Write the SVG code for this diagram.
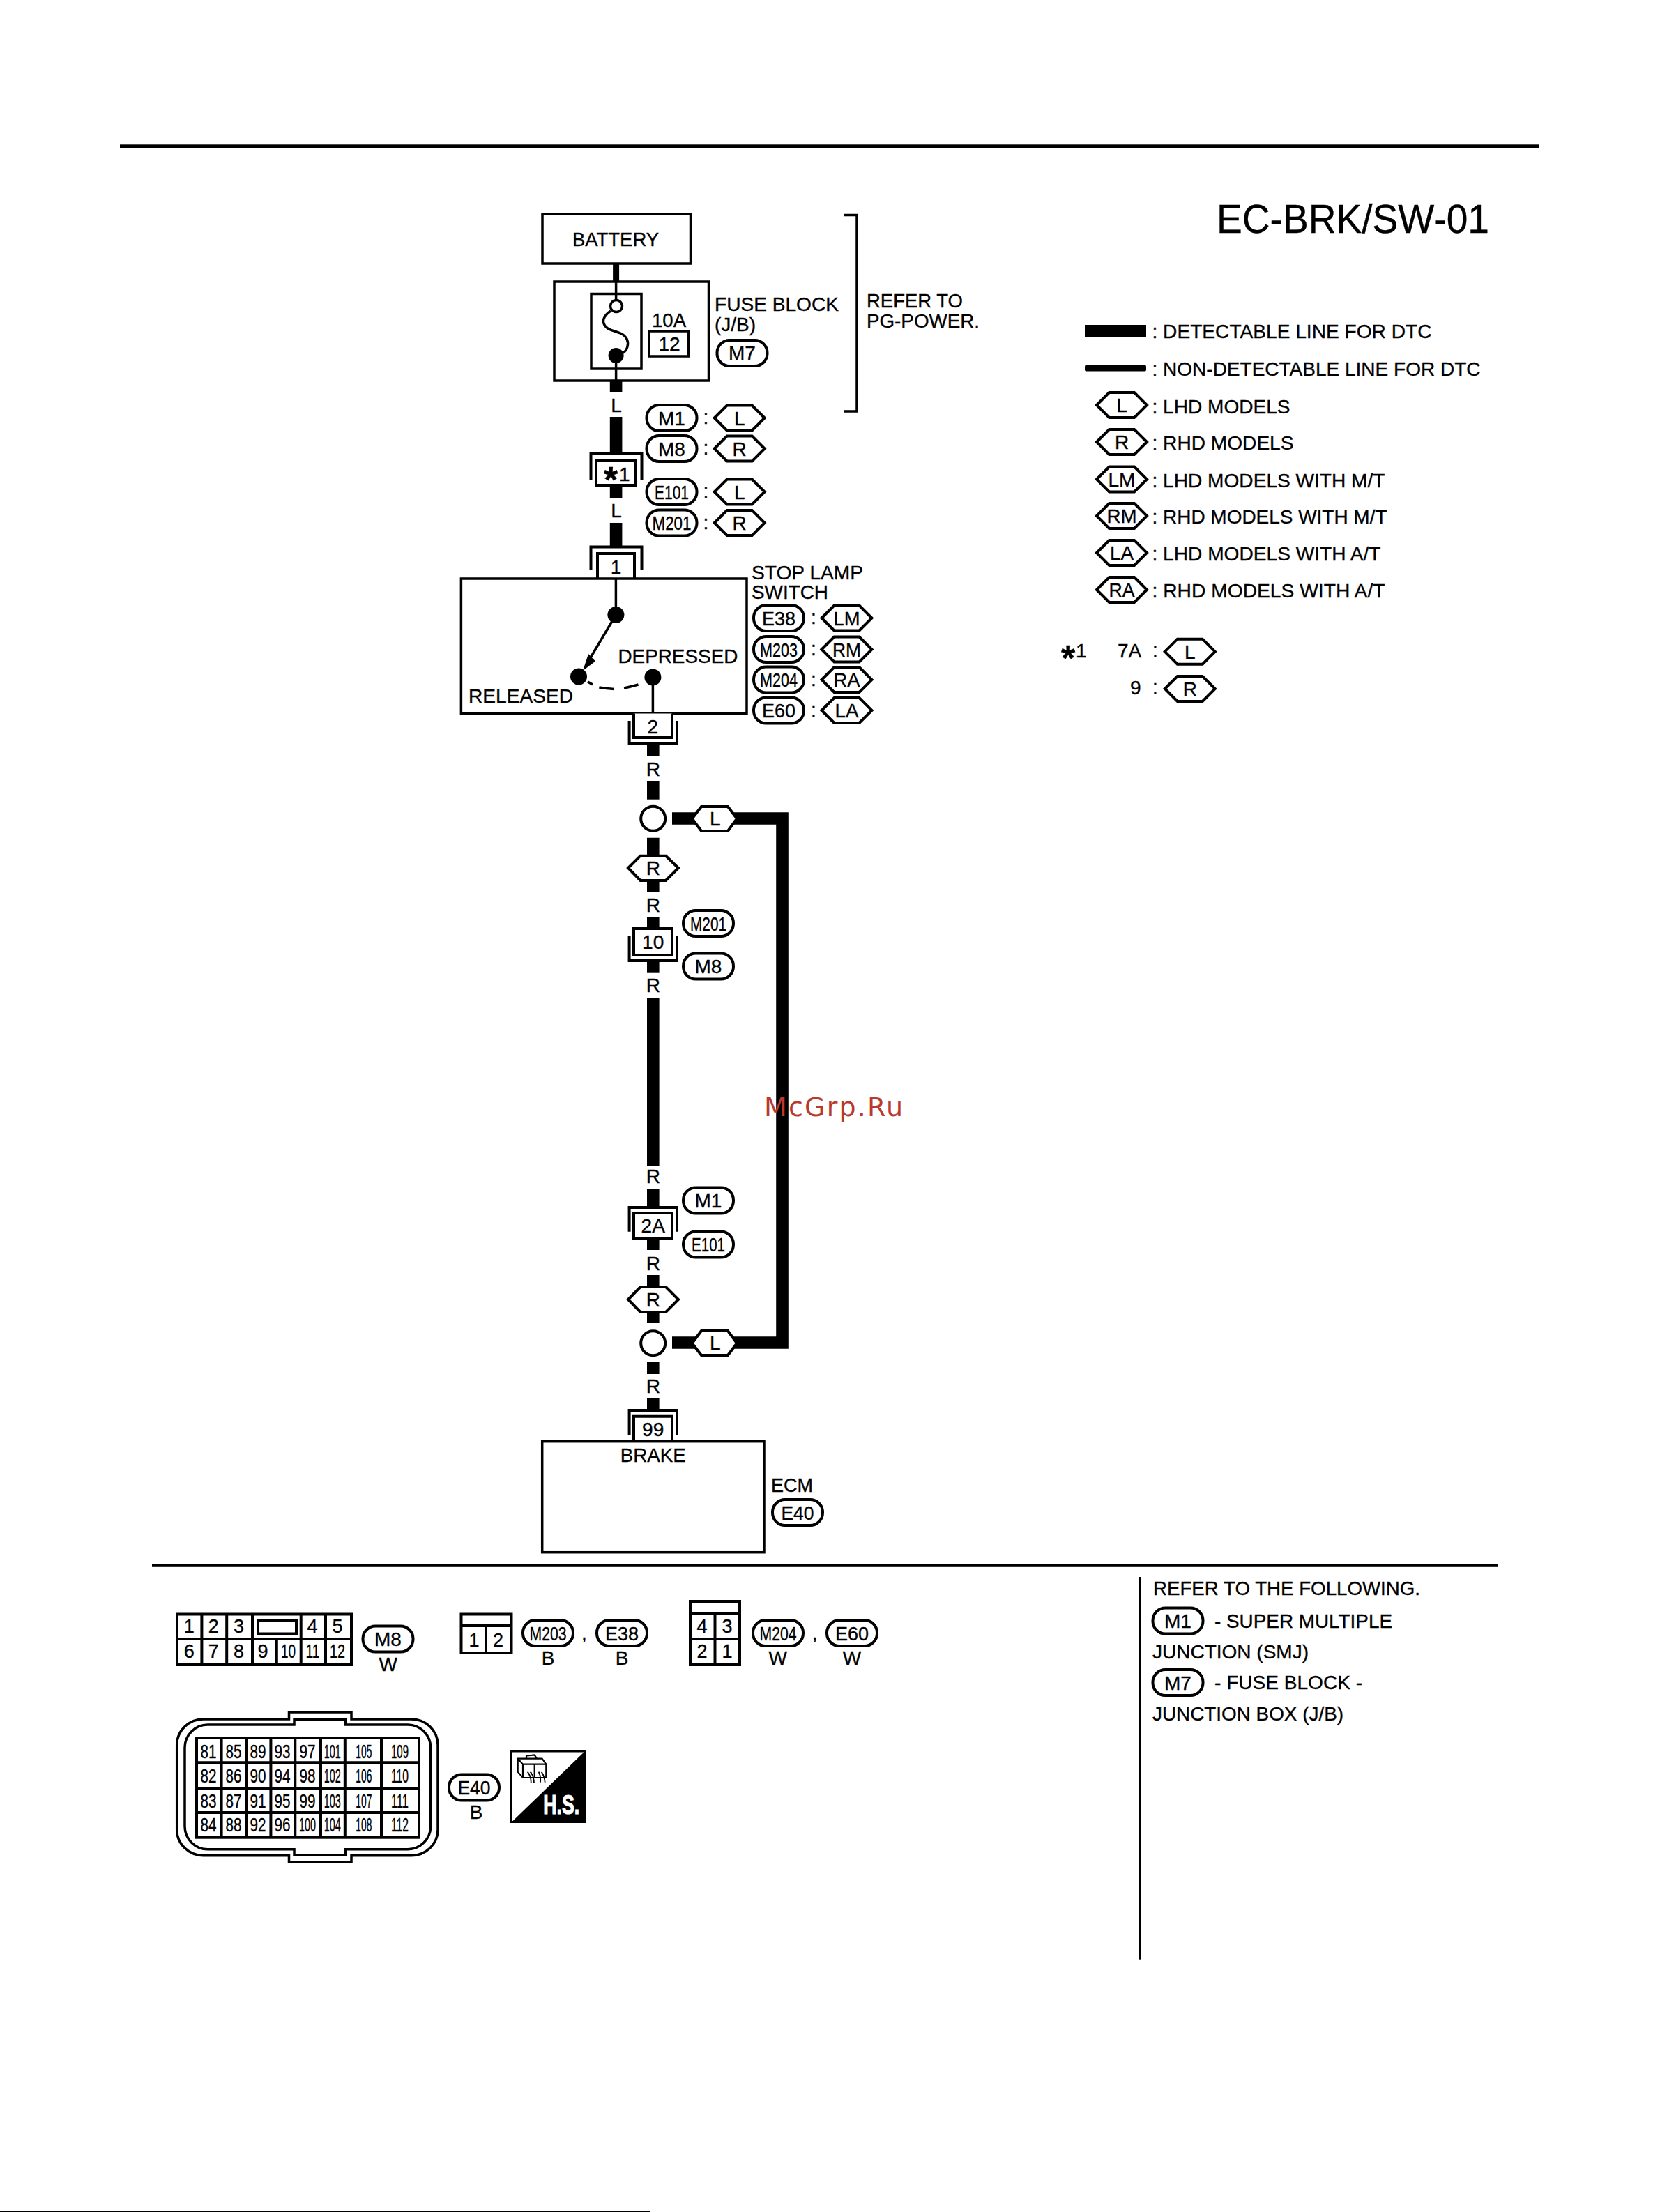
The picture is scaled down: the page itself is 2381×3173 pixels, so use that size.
<svg xmlns="http://www.w3.org/2000/svg" width="2381" height="3173" viewBox="0 0 2381 3173">
<style>
text{font-family:"Liberation Sans",Arial,sans-serif;font-size:28px;fill:#000;stroke:#000;stroke-width:.35px}
.m{text-anchor:middle}
.s{fill:none;stroke:#000;stroke-width:3.5}
.b{fill:#fff;stroke:#000;stroke-width:3.5}
.w{fill:none;stroke:#000;stroke-width:17.6;stroke-linejoin:miter}
.k{fill:#000;stroke:none}
.n{font-size:27px}
.star{font-size:52px;font-weight:bold}
</style>
<defs>
<polygon id="hex" class="b" style="stroke-width:4" points="-36,0 -18,-18 18,-18 36,0 18,18 -18,18"/>
<rect id="pill" class="b" style="stroke-width:4" x="-36" y="-18.5" width="72" height="37" rx="18" ry="18"/>
</defs>
<rect width="2381" height="3173" fill="#fff"/>
<g id="rules">
<rect class="k" x="172" y="207.3" width="2035" height="5.7"/>
<rect class="k" x="218" y="2243.3" width="1931" height="4.5"/>
<rect class="k" x="1634" y="2262" width="3" height="548.7"/>
<rect class="k" x="0" y="3171" width="933" height="2"/>
</g>
<g id="connectors">
<line class="w" style="stroke-width:9" x1="883.6" y1="378" x2="883.6" y2="404"/>
<line class="w" x1="883.6" y1="546" x2="883.6" y2="563"/>
<text class="m" x="884" y="591">L</text>
<line class="w" x1="883.6" y1="598" x2="883.6" y2="651"/>
<line class="w" x1="883.6" y1="696" x2="883.6" y2="714"/>
<text class="m" x="884" y="742">L</text>
<line class="w" x1="883.6" y1="750" x2="883.6" y2="785"/>
<line class="w" x1="936.8" y1="1069" x2="936.8" y2="1085"/>
<text class="m" x="936.8" y="1113">R</text>
<line class="w" x1="936.8" y1="1121" x2="936.8" y2="1146.7"/>
<line class="w" x1="936.8" y1="1201.7" x2="936.8" y2="1280"/>
<text class="m" x="936.8" y="1308">R</text>
<line class="w" x1="936.8" y1="1315.7" x2="936.8" y2="1332"/>
<line class="w" x1="936.8" y1="1379" x2="936.8" y2="1395.7"/>
<text class="m" x="936.8" y="1423">R</text>
<line class="w" x1="936.8" y1="1431" x2="936.8" y2="1672"/>
<text class="m" x="936.8" y="1697">R</text>
<line class="w" x1="936.8" y1="1705" x2="936.8" y2="1731"/>
<line class="w" x1="936.8" y1="1777" x2="936.8" y2="1793"/>
<text class="m" x="936.8" y="1821.7">R</text>
<line class="w" x1="936.8" y1="1829" x2="936.8" y2="1898"/>
<line class="w" x1="936.8" y1="1954" x2="936.8" y2="1971"/>
<text class="m" x="936.8" y="1998">R</text>
<line class="w" x1="936.8" y1="2006" x2="936.8" y2="2023"/>
<polyline class="w" points="964,1174 1122,1174 1122,1926 964,1926"/>
</g>
<g id="title"><text x="1745" y="334" style="font-size:57px" textLength="391" lengthAdjust="spacingAndGlyphs">EC-BRK/SW-01</text></g>
<g id="battery">
<rect class="b" x="778" y="307" width="212.5" height="71"/>
<text class="m" x="883" y="353" textLength="124" lengthAdjust="spacingAndGlyphs">BATTERY</text>
</g>
<g id="fuse-block">
<rect class="b" x="795" y="404" width="221.5" height="142"/>
<rect class="b" x="848" y="421.5" width="72" height="107.5"/>
<line class="s" x1="883.6" y1="404" x2="883.6" y2="431"/>
<line class="s" x1="883.6" y1="510" x2="883.6" y2="546"/>
<circle class="b" cx="884" cy="439" r="8.5"/>
<path class="s" d="M876 446C868 451 864 458 866 464C869 473 880 474 890 478C899 482 902 490 900 497C899 502 896 505 892 507"/>
<circle class="k" cx="883.6" cy="510" r="11"/>
<text x="935" y="469" textLength="49" lengthAdjust="spacingAndGlyphs">10A</text>
<rect class="b" x="931" y="475" width="56.5" height="36"/>
<text class="m" x="960" y="503">12</text>
<text x="1025" y="446" textLength="178" lengthAdjust="spacingAndGlyphs">FUSE BLOCK</text>
<text x="1025" y="475">(J/B)</text>
<use href="#pill" x="1064.5" y="506.5"/>
<text class="m" x="1064.5" y="516">M7</text>
</g>
<g id="power-bracket">
<path class="s" d="M1211 308.5H1229V590H1211"/>
<text x="1243" y="441" textLength="138" lengthAdjust="spacingAndGlyphs">REFER TO</text>
<text x="1243" y="470" textLength="162" lengthAdjust="spacingAndGlyphs">PG-POWER.</text>
</g>
<g id="fuse-variants">
<use href="#pill" x="963.5" y="599.5"/><text class="m" x="963.5" y="609.5">M1</text>
<text class="m" x="1012.5" y="608">:</text>
<use href="#hex" x="1060.7" y="599.5"/><text class="m" x="1060.7" y="609.5">L</text>
<use href="#pill" x="963.5" y="643.5"/><text class="m" x="963.5" y="653.5">M8</text>
<text class="m" x="1012.5" y="652">:</text>
<use href="#hex" x="1060.7" y="643.5"/><text class="m" x="1060.7" y="653.5">R</text>
<use href="#pill" x="963.5" y="705.5"/><text class="m" x="963.5" y="715.5" textLength="49" lengthAdjust="spacingAndGlyphs">E101</text>
<text class="m" x="1012.5" y="714">:</text>
<use href="#hex" x="1060.7" y="705.5"/><text class="m" x="1060.7" y="715.5">L</text>
<use href="#pill" x="963.5" y="750"/><text class="m" x="963.5" y="760" textLength="56" lengthAdjust="spacingAndGlyphs">M201</text>
<text class="m" x="1012.5" y="758.5">:</text>
<use href="#hex" x="1060.7" y="750"/><text class="m" x="1060.7" y="760">R</text>
</g>
<g id="conn-star1">
<path class="s" style="stroke-width:4" d="M847.5 689V651H920.5V689"/>
<rect class="b" style="stroke-width:4" x="855" y="660" width="56.5" height="36"/>
<text class="star" x="866" y="706">*</text>
<text x="888" y="689.5">1</text>
</g>
<g id="conn-1">
<path class="s" style="stroke-width:4" d="M847.5 818V784.5H920.5V818"/>
<rect class="b" style="stroke-width:4" x="857" y="794" width="53" height="38"/>
<text class="m" x="883.5" y="822.5">1</text>
</g>
<g id="stop-lamp-switch">
<rect class="b" x="661.4" y="830" width="409.6" height="193.6"/>
<line class="s" x1="883.4" y1="830" x2="883.4" y2="882"/>
<circle class="k" cx="883.4" cy="882" r="12"/>
<line class="s" x1="883.4" y1="882" x2="846" y2="945"/>
<polygon class="k" points="836,962 844,938 854,948.6"/>
<circle class="k" cx="830" cy="970.5" r="12"/>
<circle class="k" cx="936.4" cy="971.5" r="12"/>
<line class="s" x1="936.4" y1="971.5" x2="936.4" y2="1023.6"/>
<path class="s" d="M843 978L850 982M859.4 986Q870 988 881 988.4M895 987Q905 985 915.5 982"/>
<text x="886.4" y="951" textLength="172" lengthAdjust="spacingAndGlyphs">DEPRESSED</text>
<text x="672" y="1008" textLength="150" lengthAdjust="spacingAndGlyphs">RELEASED</text>
<text x="1078" y="831" textLength="160" lengthAdjust="spacingAndGlyphs">STOP LAMP</text>
<text x="1078" y="859" textLength="110" lengthAdjust="spacingAndGlyphs">SWITCH</text>
<use href="#pill" x="1117" y="886.5"/><text class="m" x="1117" y="896.5" textLength="48" lengthAdjust="spacingAndGlyphs">E38</text>
<text class="m" x="1167" y="895">:</text>
<use href="#hex" x="1214.5" y="886.5"/><text class="m" x="1214.5" y="896.5" textLength="38" lengthAdjust="spacingAndGlyphs">LM</text>
<use href="#pill" x="1117" y="931.5"/><text class="m" x="1117" y="941.5" textLength="54" lengthAdjust="spacingAndGlyphs">M203</text>
<text class="m" x="1167" y="940">:</text>
<use href="#hex" x="1214.5" y="931.5"/><text class="m" x="1214.5" y="941.5" textLength="41" lengthAdjust="spacingAndGlyphs">RM</text>
<use href="#pill" x="1117" y="975"/><text class="m" x="1117" y="985" textLength="54" lengthAdjust="spacingAndGlyphs">M204</text>
<text class="m" x="1167" y="983.5">:</text>
<use href="#hex" x="1214.5" y="975"/><text class="m" x="1214.5" y="985" textLength="38" lengthAdjust="spacingAndGlyphs">RA</text>
<use href="#pill" x="1117" y="1019"/><text class="m" x="1117" y="1029" textLength="48" lengthAdjust="spacingAndGlyphs">E60</text>
<text class="m" x="1167" y="1027.5">:</text>
<use href="#hex" x="1214.5" y="1019"/><text class="m" x="1214.5" y="1029" textLength="34" lengthAdjust="spacingAndGlyphs">LA</text>
</g>
<g id="conn-2">
<path class="s" style="stroke-width:4" d="M902.6 1034V1067H971V1034"/>
<path class="b" style="stroke-width:4" d="M909 1023.6V1058H964V1023.6"/>
<text class="m" x="936.4" y="1052">2</text>
</g>
<g id="splice-top">
<circle class="b" style="stroke-width:4" cx="936.7" cy="1174.3" r="17.5"/>
<polygon class="b" style="stroke-width:4" points="992.7,1174.3 1006,1157 1044,1157 1057,1174.3 1044,1192 1006,1192"/>
<text class="m" x="1025.7" y="1184">L</text>
</g>
<g id="hex-r-top">
<polygon class="b" style="stroke-width:4" points="901,1245 918.5,1227.7 955,1227.7 973,1245 955,1263 918.5,1263"/>
<text class="m" x="936.8" y="1255">R</text>
</g>
<g id="conn-10">
<path class="s" style="stroke-width:4" d="M902.6 1342.7V1378H971V1342.7"/>
<rect class="b" style="stroke-width:4" x="909" y="1332" width="55" height="38"/>
<text class="m" x="936.7" y="1361">10</text>
<use href="#pill" x="1016" y="1324.5"/><text class="m" x="1016" y="1334.5" textLength="52" lengthAdjust="spacingAndGlyphs">M201</text>
<use href="#pill" x="1016" y="1386"/><text class="m" x="1016" y="1396">M8</text>
</g>
<g id="conn-2a">
<path class="s" style="stroke-width:4" d="M902.6 1766.7V1732H971V1766.7"/>
<rect class="b" style="stroke-width:4" x="909" y="1740" width="55" height="37"/>
<text class="m" x="936.7" y="1768">2A</text>
<use href="#pill" x="1016" y="1722"/><text class="m" x="1016" y="1732">M1</text>
<use href="#pill" x="1016" y="1785"/><text class="m" x="1016" y="1795" textLength="48" lengthAdjust="spacingAndGlyphs">E101</text>
</g>
<g id="hex-r-bottom">
<polygon class="b" style="stroke-width:4" points="901,1864 918.5,1846 955,1846 973,1864 955,1882 918.5,1882"/>
<text class="m" x="936.8" y="1874">R</text>
</g>
<g id="splice-bottom">
<circle class="b" style="stroke-width:4" cx="936.7" cy="1926.7" r="17.5"/>
<polygon class="b" style="stroke-width:4" points="992.7,1926.7 1006,1909 1044,1909 1057,1926.7 1044,1944 1006,1944"/>
<text class="m" x="1025.7" y="1936">L</text>
</g>
<g id="conn-99">
<path class="s" style="stroke-width:4" d="M902.6 2059V2023H971V2059"/>
<path class="b" style="stroke-width:4" d="M909 2067V2031.7H964V2067"/>
<text class="m" x="936.7" y="2060">99</text>
</g>
<g id="ecm">
<rect class="b" x="777.7" y="2067.7" width="318.3" height="159"/>
<text class="m" x="936.7" y="2097" textLength="94" lengthAdjust="spacingAndGlyphs">BRAKE</text>
<text x="1106" y="2140" textLength="60" lengthAdjust="spacingAndGlyphs">ECM</text>
<use href="#pill" x="1144" y="2169.5"/><text class="m" x="1144" y="2179.5" textLength="47" lengthAdjust="spacingAndGlyphs">E40</text>
</g>
<g id="legend">
<rect class="k" x="1556" y="466" width="88" height="18"/>
<rect class="k" x="1556" y="523.7" width="88" height="8.7" rx="2"/>
<text x="1652.5" y="485.4" textLength="401" lengthAdjust="spacingAndGlyphs">: DETECTABLE LINE FOR DTC</text>
<text x="1652.5" y="538.7" textLength="471" lengthAdjust="spacingAndGlyphs">: NON-DETECTABLE LINE FOR DTC</text>
<use href="#hex" x="1609" y="581"/><text class="m" x="1609" y="591">L</text>
<text x="1652.5" y="592.5" textLength="198" lengthAdjust="spacingAndGlyphs">: LHD MODELS</text>
<use href="#hex" x="1609" y="634"/><text class="m" x="1609" y="644">R</text>
<text x="1652.5" y="645" textLength="203" lengthAdjust="spacingAndGlyphs">: RHD MODELS</text>
<use href="#hex" x="1609" y="687.5"/><text class="m" x="1609" y="697.5" textLength="39" lengthAdjust="spacingAndGlyphs">LM</text>
<text x="1652.5" y="698.7" textLength="334" lengthAdjust="spacingAndGlyphs">: LHD MODELS WITH M/T</text>
<use href="#hex" x="1609" y="740"/><text class="m" x="1609" y="750" textLength="43" lengthAdjust="spacingAndGlyphs">RM</text>
<text x="1652.5" y="751" textLength="337" lengthAdjust="spacingAndGlyphs">: RHD MODELS WITH M/T</text>
<use href="#hex" x="1609" y="793"/><text class="m" x="1609" y="803" textLength="34" lengthAdjust="spacingAndGlyphs">LA</text>
<text x="1652.5" y="804.4" textLength="328" lengthAdjust="spacingAndGlyphs">: LHD MODELS WITH A/T</text>
<use href="#hex" x="1609" y="846"/><text class="m" x="1609" y="856" textLength="37" lengthAdjust="spacingAndGlyphs">RA</text>
<text x="1652.5" y="857" textLength="334" lengthAdjust="spacingAndGlyphs">: RHD MODELS WITH A/T</text>
<text class="star" x="1522" y="962">*</text>
<text x="1543" y="942.5">1</text>
<text x="1603" y="942.5">7A</text>
<text class="m" x="1657" y="941.5">:</text>
<use href="#hex" x="1706.8" y="934.7"/><text class="m" x="1706.8" y="944.7">L</text>
<text x="1621" y="995.8">9</text>
<text class="m" x="1657" y="994.8">:</text>
<use href="#hex" x="1706.8" y="988"/><text class="m" x="1706.8" y="998">R</text>
</g>
<g id="connector-m8">
<rect class="b" style="stroke-width:4" x="254" y="2315.5" width="250" height="72.5"/>
<path class="s" style="stroke-width:4" d="M254 2351H504M289.4 2315.5V2388M325.2 2315.5V2388M362 2315.5V2388M396.8 2351V2388M431.7 2315.5V2388M467 2315.5V2388"/>
<rect class="s" style="stroke-width:4" x="370" y="2324" width="55" height="19.5"/>
<text class="m n" x="271.3" y="2341.7">1</text><text class="m n" x="306.3" y="2341.7">2</text><text class="m n" x="342.5" y="2341.7">3</text><text class="m n" x="448" y="2341.7">4</text><text class="m n" x="484" y="2341.7">5</text>
<text class="m n" x="271.3" y="2378">6</text><text class="m n" x="306.3" y="2378">7</text><text class="m n" x="342.5" y="2378">8</text><text class="m n" x="377" y="2378">9</text>
<text class="m n" x="413.6" y="2378" textLength="21" lengthAdjust="spacingAndGlyphs">10</text><text class="m n" x="448.5" y="2378" textLength="20" lengthAdjust="spacingAndGlyphs">11</text><text class="m n" x="484" y="2378" textLength="22" lengthAdjust="spacingAndGlyphs">12</text>
<use href="#pill" x="556.5" y="2351"/><text class="m" x="556.5" y="2361">M8</text>
<text class="m" x="556.7" y="2396.7">W</text>
</g>
<g id="connector-m203-e38">
<rect class="b" style="stroke-width:4" x="661.5" y="2315.5" width="72" height="55.5"/>
<path class="s" style="stroke-width:4" d="M661.5 2332H733.5M697 2332V2371"/>
<text class="m n" x="680" y="2361.7">1</text><text class="m n" x="714.5" y="2361.7">2</text>
<use href="#pill" x="786" y="2342.5"/><text class="m" x="786" y="2352.5" textLength="53" lengthAdjust="spacingAndGlyphs">M203</text>
<text class="m" x="786" y="2388">B</text>
<text class="m" x="838" y="2352">,</text>
<use href="#pill" x="892" y="2342.5"/><text class="m" x="892" y="2352.5" textLength="48" lengthAdjust="spacingAndGlyphs">E38</text>
<text class="m" x="892" y="2388">B</text>
</g>
<g id="connector-m204-e60">
<rect class="b" style="stroke-width:4" x="990" y="2297" width="71" height="91"/>
<path class="s" style="stroke-width:4" d="M990 2315H1061M990 2351H1061M1025.5 2315V2388"/>
<text class="m n" x="1007" y="2341.7">4</text><text class="m n" x="1043" y="2341.7">3</text>
<text class="m n" x="1007" y="2378">2</text><text class="m n" x="1043" y="2378">1</text>
<use href="#pill" x="1116" y="2342.5"/><text class="m" x="1116" y="2352.5" textLength="53" lengthAdjust="spacingAndGlyphs">M204</text>
<text class="m" x="1115.7" y="2388">W</text>
<text class="m" x="1168.6" y="2352">,</text>
<use href="#pill" x="1222" y="2342.5"/><text class="m" x="1222" y="2352.5" textLength="48" lengthAdjust="spacingAndGlyphs">E60</text>
<text class="m" x="1222" y="2388">W</text>
</g>
<g id="connector-e40">
<path class="s" d="M414.5 2466V2456H504V2466H590A38 37 0 0 1 628 2503V2625A38 37 0 0 1 590 2661.7H504V2671H414.5V2661.7H292A38 37 0 0 1 253.7 2625V2503A38 37 0 0 1 292 2466Z"/>
<path class="s" d="M422 2474V2466.7H495.7V2474H585A33 33 0 0 1 617.7 2507V2620A33 33 0 0 1 585 2652.7H495.7V2661H422V2652.7H298A33 33 0 0 1 265 2620V2507A33 33 0 0 1 298 2474Z"/>
<rect class="b" style="stroke-width:4" x="282" y="2493" width="319" height="142.7"/>
<path class="s" style="stroke-width:4" d="M317.6 2493V2635.7M353 2493V2635.7M388.4 2493V2635.7M423.3 2493V2635.7M460 2493V2635.7M494.8 2493V2635.7M547 2493V2635.7M282 2528.3H601M282 2565H601M282 2600H601"/>
<text class="m n" x="299" y="2521.7" textLength="23" lengthAdjust="spacingAndGlyphs">81</text><text class="m n" x="335" y="2521.7" textLength="23" lengthAdjust="spacingAndGlyphs">85</text><text class="m n" x="370" y="2521.7" textLength="23" lengthAdjust="spacingAndGlyphs">89</text><text class="m n" x="405" y="2521.7" textLength="23" lengthAdjust="spacingAndGlyphs">93</text><text class="m n" x="441" y="2521.7" textLength="23" lengthAdjust="spacingAndGlyphs">97</text><text class="m n" x="476.7" y="2521.7" textLength="24" lengthAdjust="spacingAndGlyphs">101</text><text class="m n" x="521.8" y="2521.7" textLength="23" lengthAdjust="spacingAndGlyphs">105</text><text class="m n" x="573.5" y="2521.7" textLength="25" lengthAdjust="spacingAndGlyphs">109</text>
<text class="m n" x="299" y="2556.7" textLength="23" lengthAdjust="spacingAndGlyphs">82</text><text class="m n" x="335" y="2556.7" textLength="23" lengthAdjust="spacingAndGlyphs">86</text><text class="m n" x="370" y="2556.7" textLength="23" lengthAdjust="spacingAndGlyphs">90</text><text class="m n" x="405" y="2556.7" textLength="23" lengthAdjust="spacingAndGlyphs">94</text><text class="m n" x="441" y="2556.7" textLength="23" lengthAdjust="spacingAndGlyphs">98</text><text class="m n" x="476.7" y="2556.7" textLength="24" lengthAdjust="spacingAndGlyphs">102</text><text class="m n" x="521.8" y="2556.7" textLength="23" lengthAdjust="spacingAndGlyphs">106</text><text class="m n" x="573.5" y="2556.7" textLength="25" lengthAdjust="spacingAndGlyphs">110</text>
<text class="m n" x="299" y="2592.7" textLength="23" lengthAdjust="spacingAndGlyphs">83</text><text class="m n" x="335" y="2592.7" textLength="23" lengthAdjust="spacingAndGlyphs">87</text><text class="m n" x="370" y="2592.7" textLength="23" lengthAdjust="spacingAndGlyphs">91</text><text class="m n" x="405" y="2592.7" textLength="23" lengthAdjust="spacingAndGlyphs">95</text><text class="m n" x="441" y="2592.7" textLength="23" lengthAdjust="spacingAndGlyphs">99</text><text class="m n" x="476.7" y="2592.7" textLength="24" lengthAdjust="spacingAndGlyphs">103</text><text class="m n" x="521.8" y="2592.7" textLength="23" lengthAdjust="spacingAndGlyphs">107</text><text class="m n" x="573.5" y="2592.7" textLength="25" lengthAdjust="spacingAndGlyphs">111</text>
<text class="m n" x="299" y="2627.3" textLength="23" lengthAdjust="spacingAndGlyphs">84</text><text class="m n" x="335" y="2627.3" textLength="23" lengthAdjust="spacingAndGlyphs">88</text><text class="m n" x="370" y="2627.3" textLength="23" lengthAdjust="spacingAndGlyphs">92</text><text class="m n" x="405" y="2627.3" textLength="23" lengthAdjust="spacingAndGlyphs">96</text><text class="m n" x="441" y="2627.3" textLength="24" lengthAdjust="spacingAndGlyphs">100</text><text class="m n" x="476.7" y="2627.3" textLength="24" lengthAdjust="spacingAndGlyphs">104</text><text class="m n" x="521.8" y="2627.3" textLength="23" lengthAdjust="spacingAndGlyphs">108</text><text class="m n" x="573.5" y="2627.3" textLength="25" lengthAdjust="spacingAndGlyphs">112</text>
<use href="#pill" x="680" y="2564"/><text class="m" x="680" y="2574" textLength="47" lengthAdjust="spacingAndGlyphs">E40</text>
<text class="m" x="683" y="2609">B</text>
</g>
<g id="hs-icon">
<rect x="733.5" y="2512" width="105" height="101.5" fill="#fff" stroke="#000" stroke-width="3"/>
<polygon class="k" points="838.5,2512.5 838.5,2613.5 734,2613.5"/>
<path class="s" style="stroke-width:2.2" d="M742.7 2522.7H777.5L783.3 2530.7V2550H750L742.7 2541.7ZM742.7 2522.7L750 2530.7H783.3M750 2530.7V2550M766.7 2530.7V2550M755 2522.7V2518.5L766.7 2517.5L770 2522.7"/>
<path class="s" style="stroke-width:1.8" d="M756.7 2541.7Q762 2548 761.7 2558M760.7 2541.7Q766 2548 766 2558M772.7 2541.7Q776 2548 775 2556.7M776.7 2541.7Q781 2548 781.7 2556.7"/>
<text x="779.3" y="2602" style="font-size:38.6px;font-weight:bold;fill:#fff;stroke:#fff;stroke-width:1.2px" textLength="52" lengthAdjust="spacingAndGlyphs">H.S.</text>
</g>
<g id="reference-note">
<text x="1654" y="2288" textLength="383" lengthAdjust="spacingAndGlyphs">REFER TO THE FOLLOWING.</text>
<use href="#pill" x="1689.5" y="2325"/><text class="m" x="1689.5" y="2335">M1</text>
<text x="1742" y="2335" textLength="255" lengthAdjust="spacingAndGlyphs">- SUPER MULTIPLE</text>
<text x="1653" y="2379" textLength="224" lengthAdjust="spacingAndGlyphs">JUNCTION (SMJ)</text>
<use href="#pill" x="1689.5" y="2413.5"/><text class="m" x="1689.5" y="2423.5">M7</text>
<text x="1742" y="2423" textLength="212" lengthAdjust="spacingAndGlyphs">- FUSE BLOCK -</text>
<text x="1653" y="2468" textLength="274" lengthAdjust="spacingAndGlyphs">JUNCTION BOX (J/B)</text>
</g>
<g id="watermark"><text x="1096" y="1601" style="font-family:'DejaVu Sans',sans-serif;font-size:38px;fill:#b8392e;stroke:none" textLength="199">McGrp.Ru</text></g>
</svg>
